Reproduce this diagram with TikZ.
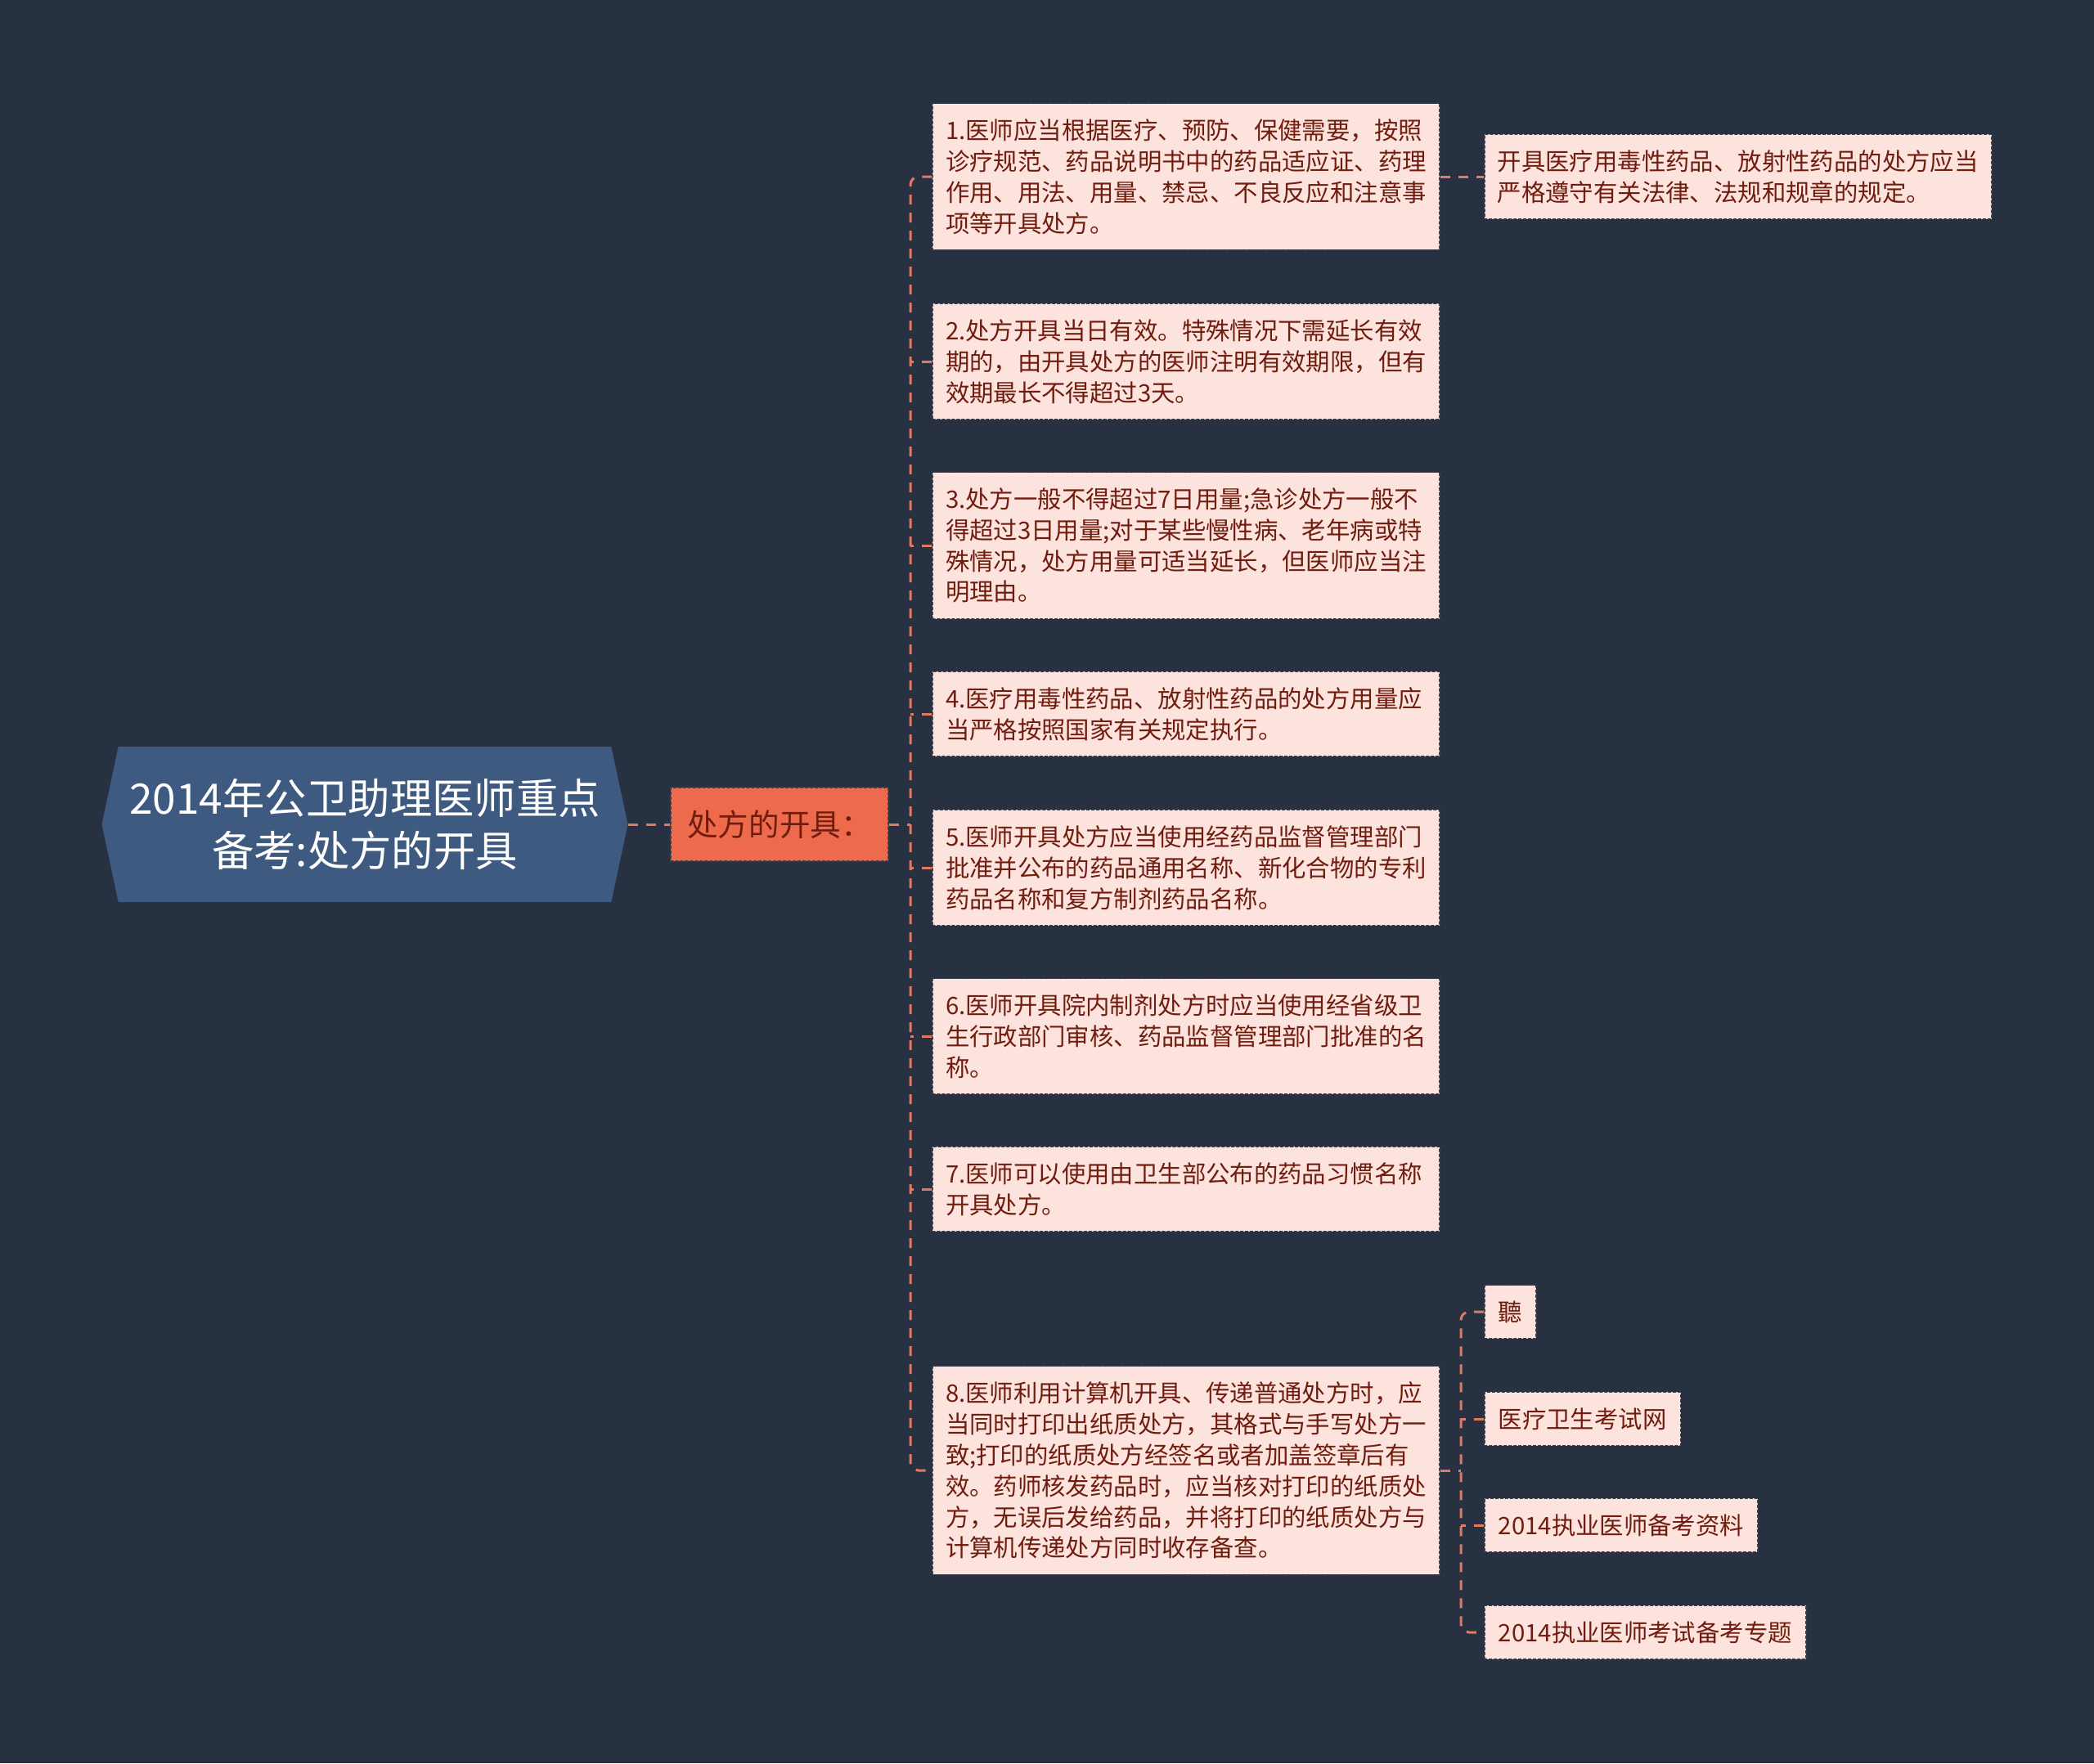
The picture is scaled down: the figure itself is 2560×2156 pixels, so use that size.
\documentclass[tikz,border=0pt]{standalone}
\usepackage{fontspec}
\setmainfont{Noto Sans CJK SC}
\usetikzlibrary{shapes.symbols}
\definecolor{bgcol}{RGB}{40,49,66}
\definecolor{rootcol}{RGB}{63,90,128}
\definecolor{topiccol}{RGB}{238,106,77}
\definecolor{leafcol}{RGB}{253,227,221}
\definecolor{leaftext}{RGB}{112,28,14}
\definecolor{linkcol}{RGB}{223,122,99}
\definecolor{edgecol}{RGB}{58,63,74}

\begin{document}
\begin{tikzpicture}[line cap=round,line join=round,x=1bp,y=-1bp,
  rootbox/.style={shape=signal,signal to=west and east,signal pointer angle=156,
    fill=rootcol,text=white,minimum height=190bp,minimum width=643bp,inner xsep=0pt,
    align=center,font=\fontsize{51.5}{65}\selectfont},
  topicbox/.style={fill=topiccol,draw=edgecol,dashed,line width=1.5bp,text=leaftext,
    minimum width=266bp,minimum height=90bp,font=\fontsize{37.7}{45}\selectfont},
  leafbox/.style={fill=leafcol,draw=edgecol,dashed,line width=1.5bp,text=leaftext,
    text width=588bp,align=left,inner xsep=16bp,inner ysep=19bp,
    font=\fontsize{29.5}{38}\selectfont},
  tagbox/.style={fill=leafcol,draw=edgecol,dashed,line width=1.5bp,text=leaftext,
    inner xsep=17bp,inner ysep=19bp,anchor=west,font=\fontsize{29.5}{38}\selectfont},
  link/.style={draw=linkcol,line cap=butt,line width=3bp,dash pattern=on 12bp off 10bp}]
\fill [bgcol] (0,0) rectangle (2560,2156);
\useasboundingbox (0,0) rectangle (2560,2156);

\node [rootbox] (root) at (446,1008) {2014年公卫助理医师重点\\备考:处方的开具};
\node [topicbox] (topic) at (953,1008) {处方的开具：};

\node [leafbox] (kid1) at (1450,216) {1.医师应当根据医疗、预防、保健需要，按照\\诊疗规范、药品说明书中的药品适应证、药理\\作用、用法、用量、禁忌、不良反应和注意事\\项等开具处方。};
\node [leafbox] (kid2) at (1450,442) {2.处方开具当日有效。特殊情况下需延长有效\\期的，由开具处方的医师注明有效期限，但有\\效期最长不得超过3天。};
\node [leafbox] (kid3) at (1450,667) {3.处方一般不得超过7日用量;急诊处方一般不\\得超过3日用量;对于某些慢性病、老年病或特\\殊情况，处方用量可适当延长，但医师应当注\\明理由。};
\node [leafbox] (kid4) at (1450,873) {4.医疗用毒性药品、放射性药品的处方用量应\\当严格按照国家有关规定执行。};
\node [leafbox] (kid5) at (1450,1061) {5.医师开具处方应当使用经药品监督管理部门\\批准并公布的药品通用名称、新化合物的专利\\药品名称和复方制剂药品名称。};
\node [leafbox] (kid6) at (1450,1267) {6.医师开具院内制剂处方时应当使用经省级卫\\生行政部门审核、药品监督管理部门批准的名\\称。};
\node [leafbox] (kid7) at (1450,1454) {7.医师可以使用由卫生部公布的药品习惯名称\\开具处方。};
\node [leafbox] (kid8) at (1450,1798) {8.医师利用计算机开具、传递普通处方时，应\\当同时打印出纸质处方，其格式与手写处方一\\致;打印的纸质处方经签名或者加盖签章后有\\效。药师核发药品时，应当核对打印的纸质处\\方，无误后发给药品，并将打印的纸质处方与\\计算机传递处方同时收存备查。};

\node [leafbox,anchor=west] (note1) at (1814,216) {开具医疗用毒性药品、放射性药品的处方应当\\严格遵守有关法律、法规和规章的规定。};

\node [tagbox] (tagA) at (1814,1604) {聽};
\node [tagbox] (tagB) at (1814,1735) {医疗卫生考试网};
\node [tagbox] (tagC) at (1814,1865) {2014执业医师备考资料};
\node [tagbox] (tagD) at (1814,1996) {2014执业医师考试备考专题};

\coordinate (trunk) at (1113,0);
\coordinate (subtrunk) at (1786,0);

\draw [link] (root.east) -- (topic.west);
\draw [link] (topic.east) -- (topic.east -| trunk);
\draw [link,rounded corners=10bp] (kid1.west) -- (kid1.west -| trunk) |- (kid8.west);
\foreach \i in {2,...,7}
  \draw [link] (kid\i.west) -- (kid\i.west -| trunk);
\draw [link] (kid1.east) -- (note1.west);

\draw [link] (kid8.east) -- (kid8.east -| subtrunk);
\draw [link,rounded corners=10bp] (tagA.west) -- (tagA.west -| subtrunk) |- (tagD.west);
\foreach \t in {B,C}
  \draw [link] (tag\t.west) -- (tag\t.west -| subtrunk);
\end{tikzpicture}
\end{document}
